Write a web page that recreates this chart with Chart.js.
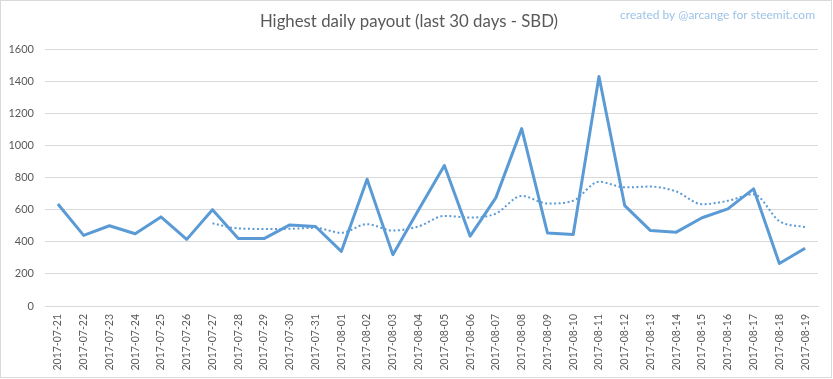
<!DOCTYPE html>
<html>
<head>
<meta charset="utf-8">
<style>
html,body{margin:0;padding:0;background:#fff;}
#wrap{width:833px;height:379px;position:relative;}
</style>
<script src="https://cdn.jsdelivr.net/npm/chart.js@4.4.0/dist/chart.umd.min.js"></script>
</head>
<body>
<div id="wrap"><canvas id="c" width="833" height="379"></canvas></div>
<script>
const categories = ["2017-07-21","2017-07-22","2017-07-23","2017-07-24","2017-07-25","2017-07-26","2017-07-27","2017-07-28","2017-07-29","2017-07-30","2017-07-31","2017-08-01","2017-08-02","2017-08-03","2017-08-04","2017-08-05","2017-08-06","2017-08-07","2017-08-08","2017-08-09","2017-08-10","2017-08-11","2017-08-12","2017-08-13","2017-08-14","2017-08-15","2017-08-16","2017-08-17","2017-08-18","2017-08-19"];
const payout = [635,440,500,450,555,415,600,420,420,505,495,340,790,320,600,875,435,675,1105,455,445,1430,625,470,460,550,605,730,265,360];
const movingAvg = [null,null,null,null,null,null,515,483,480,481,487,456,510,470,496,561,551,576,686,638,656,774,739,744,713,634,655,696,529,491];
const yTicks = [0,200,400,600,800,1000,1200,1400,1600];
const titleText = "Highest daily payout (last 30 days - SBD)";
const creditText = "created by @arcange for steemit.com";

const FONT = "Lato, 'Open Sans', sans-serif";

const decor = {
  id: 'decor',
  afterDraw(chart) {
    const ctx = chart.ctx;
    ctx.save();
    ctx.strokeStyle = '#d9d9d9';
    ctx.lineWidth = 1;
    ctx.strokeRect(0.5, 0.5, 831, 377);
    ctx.font = "12px " + FONT;
    ctx.fillStyle = '#9dc3e6';
    ctx.textAlign = 'right';
    ctx.textBaseline = 'middle';
    ctx.fillText(creditText, 815, 15);
    ctx.restore();
  }
};

new Chart(document.getElementById('c'), {
  type: 'line',
  data: {
    labels: categories,
    datasets: [
      {
        data: payout,
        borderColor: '#5b9bd5',
        borderWidth: 3,
        pointRadius: 0,
        tension: 0,
        fill: false,
        borderJoinStyle: 'round'
      },
      {
        data: movingAvg,
        borderColor: '#5b9bd5',
        borderWidth: 2,
        borderDash: [2, 2.5],
        pointRadius: 0,
        tension: 0.4,
        cubicInterpolationMode: 'monotone',
        fill: false,
        spanGaps: false
      }
    ]
  },
  options: {
    responsive: false,
    animation: false,
    devicePixelRatio: 1,
    layout: { padding: { left: 0, right: 15, top: 0, bottom: 0 } },
    plugins: {
      legend: { display: false },
      tooltip: { enabled: false },
      title: {
        display: true,
        text: titleText,
        color: '#595959',
        font: { family: FONT, size: 16.8, weight: 'normal' },
        padding: { top: 12, bottom: 17 }
      }
    },
    scales: {
      x: {
        offset: true,
        grid: { display: false, drawTicks: false, offset: true },
        border: { display: true, color: '#d9d9d9' },
        ticks: {
          autoSkip: false,
          maxRotation: 90,
          minRotation: 90,
          padding: 8,
          color: '#595959',
          font: { family: FONT, size: 10.5 }
        },
        afterFit(scale) { scale.height = 73; }
      },
      y: {
        min: 0,
        max: 1600,
        afterBuildTicks(scale) { scale.ticks = yTicks.map(v => ({ value: v })); },
        grid: { color: '#d9d9d9', lineWidth: 1, drawTicks: false },
        border: { display: false },
        ticks: {
          padding: 11,
          color: '#595959',
          font: { family: FONT, size: 11 },
          callback: (v) => String(v)
        },
        afterFit(scale) { scale.width = 45; }
      }
    }
  },
  plugins: [decor]
});
</script>
</body>
</html>
